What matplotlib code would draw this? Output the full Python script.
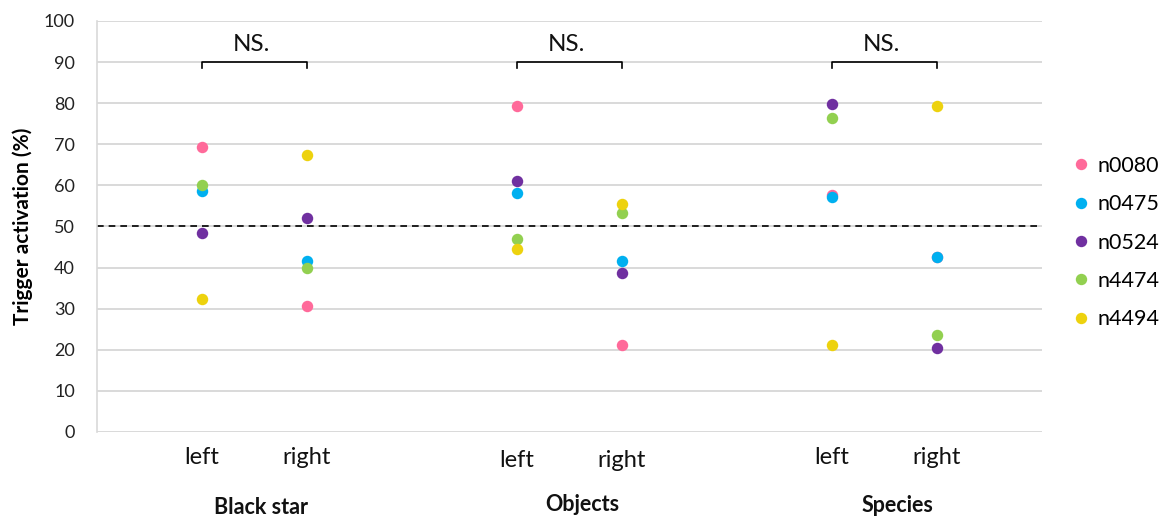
import matplotlib
matplotlib.use("Agg")
import matplotlib.pyplot as plt
from matplotlib.lines import Line2D

plt.rcParams['font.family'] = ['Lato', 'DejaVu Sans']

# ---- data ----
groups = ["Black star", "Objects", "Species"]
sides = ["left", "right"]
neurons = ["n0080", "n0475", "n0524", "n4474", "n4494"]
colors = ["#FF6A9A", "#00B0F0", "#7030A0", "#92D050", "#EDD20E"]

# values per neuron: [BS-left, BS-right, Obj-left, Obj-right, Sp-left, Sp-right]
n0080 = [69.3, 30.6, 79.3, 21.1, 57.6, 42.7]
n0475 = [58.6, 41.5, 58.2, 41.6, 57.2, 42.6]
n0524 = [48.5, 52.0, 61.1, 38.7, 79.7, 20.4]
n4474 = [60.1, 39.8, 47.0, 53.3, 76.5, 23.5]
n4494 = [32.4, 67.5, 44.5, 55.5, 21.1, 79.3]
series = [n0080, n0475, n0524, n4474, n4494]

sig_labels = ["NS.", "NS.", "NS."]
chance = 50

# x positions: two per group with a gap between groups
xpos = []
for g in range(len(groups)):
    xpos += [3 * g + 1, 3 * g + 2]

fig = plt.figure(figsize=(11.68, 5.17), dpi=100)
ax = fig.add_axes([97 / 1168, 1 - 432 / 517, (1042 - 97) / 1168, (432 - 21) / 517])

ax.set_xlim(0, 9)
ax.set_ylim(0, 100)
ax.set_yticks(range(0, 101, 10))
ax.yaxis.grid(True, color="#D9D9D9", linewidth=1.4)
ax.set_axisbelow(True)
ax.set_xticks([])
ax.tick_params(axis="y", length=0, pad=16, labelsize=13, colors="#222222")
for s in ["top", "right", "bottom"]:
    ax.spines[s].set_visible(False)
ax.spines["left"].set_color("#D9D9D9")
ax.spines["left"].set_linewidth(1.2)

ax.axhline(chance, color="black", linestyle=(0, (4, 3)), linewidth=1.2, zorder=2)

for name, vals, c in zip(neurons, series, colors):
    ax.scatter(xpos, vals, s=68, color=c, zorder=3, linewidths=0, label=name)

ax.set_ylabel("Trigger activation (%)", fontsize=15, fontweight="bold", labelpad=8)

# category labels
side_offsets = [18, 20.5, 18]
group_shift = [0.06, 0.12, 0.12]
group_offsets = [54, 52.5, 53]
for g, grp in enumerate(groups):
    for k, sd in enumerate(sides):
        x = xpos[2 * g + k]
        ax.annotate(sd, xy=(x, 0), xycoords=("data", "axes fraction"),
                    xytext=(0, -side_offsets[g]), textcoords="offset points",
                    ha="center", va="center", fontsize=17, color="#111111")
    xc = (xpos[2 * g] + xpos[2 * g + 1]) / 2 + group_shift[g]
    ax.annotate(grp, xy=(xc, 0), xycoords=("data", "axes fraction"),
                xytext=(0, -group_offsets[g]), textcoords="offset points",
                ha="center", va="center", fontsize=15.5, fontweight="bold", color="#111111")

# significance brackets
bracket_y = 90
tick_h = 1.5
for g, lab in enumerate(sig_labels):
    x1, x2 = xpos[2 * g], xpos[2 * g + 1]
    ax.plot([x1, x1, x2, x2], [bracket_y - tick_h, bracket_y, bracket_y, bracket_y - tick_h],
            color="black", linewidth=1.2, zorder=4, clip_on=False)
    ax.text((x1 + x2) / 2 - 0.03, bracket_y + 4.2, lab, ha="center", va="center",
            fontsize=17.5, color="#111111")

handles = [Line2D([], [], marker="o", linestyle="none", markersize=8.2,
                  markerfacecolor=c, markeredgewidth=0) for c in colors]
fig.legend(handles, neurons, loc="upper left", bbox_to_anchor=(1068 / 1168, 1 - 156 / 517),
           frameon=False, fontsize=15.5, handletextpad=0.15, labelspacing=0.85,
           handlelength=1.2, borderaxespad=0, borderpad=0)

fig.savefig("out.png", dpi=100)
